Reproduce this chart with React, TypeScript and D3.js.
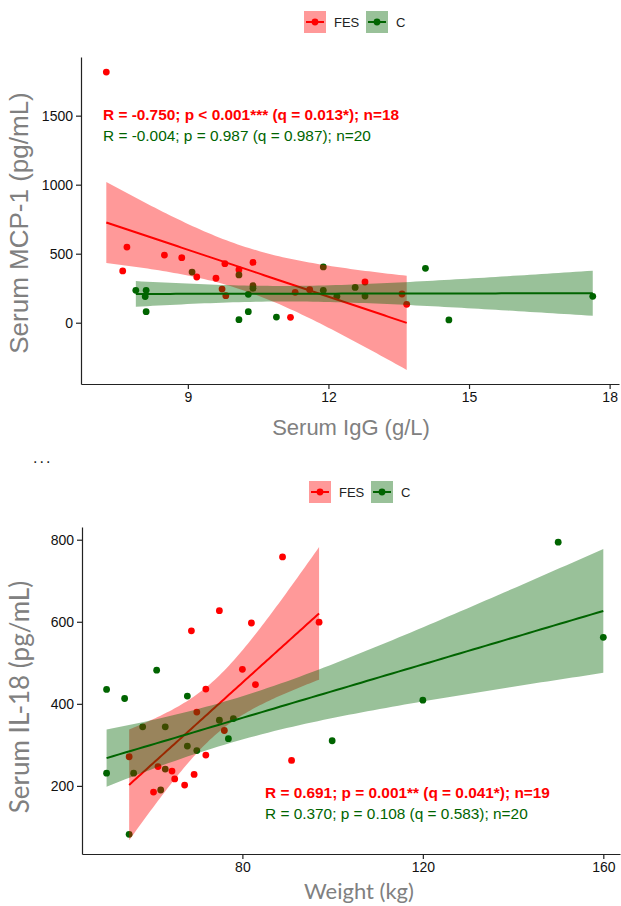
import React, { useRef, useEffect } from "react";
import * as d3 from "d3";

// top panel: Serum IgG vs MCP-1
const igg_fes = [7.26, 7.70, 7.61, 8.50, 8.87, 9.19, 9.60, 9.73, 9.81, 9.79, 10.09, 10.39, 11.19, 11.29, 11.60, 12.78, 13.57, 13.67];
const mcp_fes = [1816, 548, 375, 490, 471, 331, 322, 244, 196, 428, 384, 437, 39, 220, 239, 295, 208, 133];
const igg_c = [7.89, 8.11, 8.09, 8.11, 9.09, 10.09, 10.29, 10.29, 10.09, 10.39, 10.39, 10.89, 11.89, 11.89, 12.18, 12.57, 12.78, 14.07, 14.57, 17.64];
const mcp_c = [235, 235, 190, 80, 367, 346, 206, 80, 22, 268, 249, 41, 404, 235, 191, 256, 193, 394, 20, 191];

// bottom panel: Weight vs IL-18
const wt_fes = [80.0, 82.9, 71.9, 69.9, 76.0, 71.9, 54.9, 61.3, 64.4, 65.0, 69.3, 67.2, 60.3, 90.9, 88.9, 74.9, 82.0, 68.7, 97.0];
const il_fes = [484, 447, 436, 380, 335, 275, 271, 247, 236, 217, 228, 202, 185, 262, 758, 627, 597, 578, 599];
const wt_c = [49.9, 53.9, 61.0, 67.8, 49.9, 55.9, 57.9, 62.9, 67.8, 69.9, 74.9, 78.0, 76.9, 62.9, 61.9, 54.9, 150.0, 160.0, 120.0, 99.9];
const il_c = [435, 413, 482, 419, 231, 231, 344, 344, 297, 286, 360, 364, 315, 241, 190, 82, 794, 562, 409, 310];

const xTicksTop = [9, 12, 15, 18];
const yTicksTop = [0, 500, 1000, 1500];
const xTicksBot = [80, 120, 160];
const yTicksBot = [200, 400, 600, 800];

const groups = ["FES", "C"];
const statsTop = [
  "R = -0.750; p < 0.001*** (q = 0.013*); n=18",
  "R = -0.004; p = 0.987 (q = 0.987); n=20",
];
const statsBot = [
  "R = 0.691; p = 0.001** (q = 0.041*); n=19",
  "R = 0.370; p = 0.108 (q = 0.583); n=20",
];

const RED = "#FF0000";
const GREEN = "#006400";
const SANS = "Liberation Sans, Arial, sans-serif";

// 97.5% t quantiles
const tq: Record<number, number> = { 16: 2.1199, 17: 2.1098, 18: 2.1009 };

function fit(xs: number[], ys: number[]) {
  const n = xs.length;
  const mx = d3.mean(xs)!;
  const my = d3.mean(ys)!;
  let sxx = 0, sxy = 0;
  xs.forEach((x, i) => { sxx += (x - mx) ** 2; sxy += (x - mx) * (ys[i] - my); });
  const b = sxy / sxx;
  const a = my - b * mx;
  let sse = 0;
  xs.forEach((x, i) => { sse += (ys[i] - a - b * x) ** 2; });
  const s = Math.sqrt(sse / (n - 2));
  const t = tq[n - 2] || 2.1;
  const [lo, hi] = d3.extent(xs) as [number, number];
  return d3.range(0, 81).map((k) => {
    const x = lo + ((hi - lo) * k) / 80;
    const yhat = a + b * x;
    const se = s * Math.sqrt(1 / n + (x - mx) ** 2 / sxx);
    return { x, y: yhat, y0: yhat - t * se, y1: yhat + t * se };
  });
}

function panel(svg: any, o: any) {
  const x = d3.scaleLinear().domain(o.xd).range([o.left, o.right]);
  const y = d3.scaleLinear().domain(o.yd).range([o.bottom, o.top]);
  const g = svg.append("g");
  const sets = [
    { xs: o.xf, ys: o.yf, c: RED },
    { xs: o.xc, ys: o.yc, c: GREEN },
  ];

  // points first, ribbons on top (ggplot order)
  sets.forEach((s) => {
    g.selectAll(null)
      .data(s.xs.map((v: number, i: number) => [v, s.ys[i]]))
      .enter()
      .append("circle")
      .attr("cx", (d: number[]) => x(d[0]))
      .attr("cy", (d: number[]) => y(d[1]))
      .attr("r", 3.4)
      .attr("fill", s.c);
  });

  sets.forEach((s) => {
    const f = fit(s.xs, s.ys);
    g.append("path")
      .attr("d", d3.area<any>().x((d) => x(d.x)).y0((d) => y(d.y0)).y1((d) => y(d.y1))(f))
      .attr("fill", s.c)
      .attr("fill-opacity", 0.4);
    g.append("path")
      .attr("d", d3.line<any>().x((d) => x(d.x)).y((d) => y(d.y))(f))
      .attr("fill", "none")
      .attr("stroke", s.c)
      .attr("stroke-width", 2);
  });

  // axes
  const ax = g.append("g").attr("transform", `translate(0,${o.bottom})`)
    .call(d3.axisBottom(x).tickValues(o.xt).tickSize(5).tickSizeOuter(0).tickPadding(3).tickFormat(d3.format("d")));
  const ay = g.append("g").attr("transform", `translate(${o.left},0)`)
    .call(d3.axisLeft(y).tickValues(o.yt).tickSize(5).tickSizeOuter(0).tickPadding(3).tickFormat(d3.format("d")));
  [ax, ay].forEach((a) => {
    a.select(".domain").attr("stroke", "#222").attr("stroke-width", 1.2);
    a.selectAll(".tick line").attr("stroke", "#222").attr("stroke-width", 1.2);
    a.selectAll(".tick text")
      .attr("font-size", 14)
      .attr("font-family", SANS)
      .attr("fill", "#111");
  });

  // titles
  g.append("text")
    .attr("x", o.xtx).attr("y", o.xty)
    .attr("text-anchor", "middle")
    .attr("font-size", o.xfs)
    .attr("font-family", o.titleFont)
    .attr("fill", "#808080")
    .text(o.xlab);
  g.append("text")
    .attr("transform", `translate(${o.ytx},${o.yty}) rotate(-90)`)
    .attr("text-anchor", "middle")
    .attr("font-size", o.yfs)
    .attr("font-family", o.titleFont)
    .attr("fill", "#808080")
    .text(o.ylab);

  // stats text
  o.stats.forEach((t: string, i: number) => {
    g.append("text")
      .attr("x", o.sx).attr("y", o.sy + i * 20.5)
      .attr("font-size", 15.4)
      .attr("font-weight", i === 0 ? "bold" : "normal")
      .attr("font-family", SANS)
      .attr("fill", i === 0 ? RED : GREEN)
      .text(t);
  });

  // legend
  const lg = g.append("g").attr("transform", `translate(${o.lx},${o.ly})`);
  groups.forEach((name, i) => {
    const c = i === 0 ? RED : GREEN;
    const ox = i * 62;
    lg.append("rect").attr("x", ox).attr("y", 0).attr("width", 22).attr("height", 22)
      .attr("fill", c).attr("fill-opacity", 0.4);
    lg.append("line").attr("x1", ox + 2).attr("x2", ox + 20).attr("y1", 11).attr("y2", 11)
      .attr("stroke", c).attr("stroke-width", 2);
    lg.append("circle").attr("cx", ox + 11).attr("cy", 11).attr("r", 3.4).attr("fill", c);
    lg.append("text").attr("x", ox + 30).attr("y", 16)
      .attr("font-size", 13)
      .attr("font-family", SANS)
      .attr("fill", "#222")
      .text(name);
  });
}

const App = () => {
  const svgRef = useRef<SVGSVGElement>(null);

  useEffect(() => {
    const svg = d3.select(svgRef.current);
    svg.selectAll("*").remove();
    svg.append("rect").attr("width", 621).attr("height", 906).attr("fill", "white");

    panel(svg, {
      xd: [6.72, 18.2], yd: [-444, 1925],
      left: 81, right: 619, top: 57, bottom: 384,
      xf: igg_fes, yf: mcp_fes, xc: igg_c, yc: mcp_c,
      xt: xTicksTop, yt: yTicksTop,
      xlab: "Serum IgG (g/L)", ylab: "Serum MCP-1 (pg/mL)",
      xtx: 351, xty: 435, ytx: 28, yty: 223, xfs: 22, yfs: 26,
      titleFont: SANS,
      stats: statsTop, sx: 103, sy: 120,
      lx: 304, ly: 11,
    });

    panel(svg, {
      xd: [44.45, 163.7], yd: [34, 831],
      left: 82, right: 620, top: 527, bottom: 854,
      xf: wt_fes, yf: il_fes, xc: wt_c, yc: il_c,
      xt: xTicksBot, yt: yTicksBot,
      xlab: "Weight (kg)", ylab: "Serum IL-18 (pg/mL)",
      xtx: 359, xty: 899, ytx: 29, yty: 697, xfs: 22, yfs: 26,
      titleFont: "Lato, Open Sans, sans-serif",
      stats: statsBot, sx: 265, sy: 798,
      lx: 309, ly: 481,
    });

    svg.append("text")
      .attr("x", 33).attr("y", 463)
      .attr("font-size", 16)
      .attr("font-family", SANS)
      .attr("fill", "#222")
      .attr("letter-spacing", 2)
      .text("...");
  }, []);

  return (
    <div style={{ position: "absolute", left: 0, top: 0 }}>
      <svg ref={svgRef} width={621} height={906}></svg>
    </div>
  );
};

export default App;
